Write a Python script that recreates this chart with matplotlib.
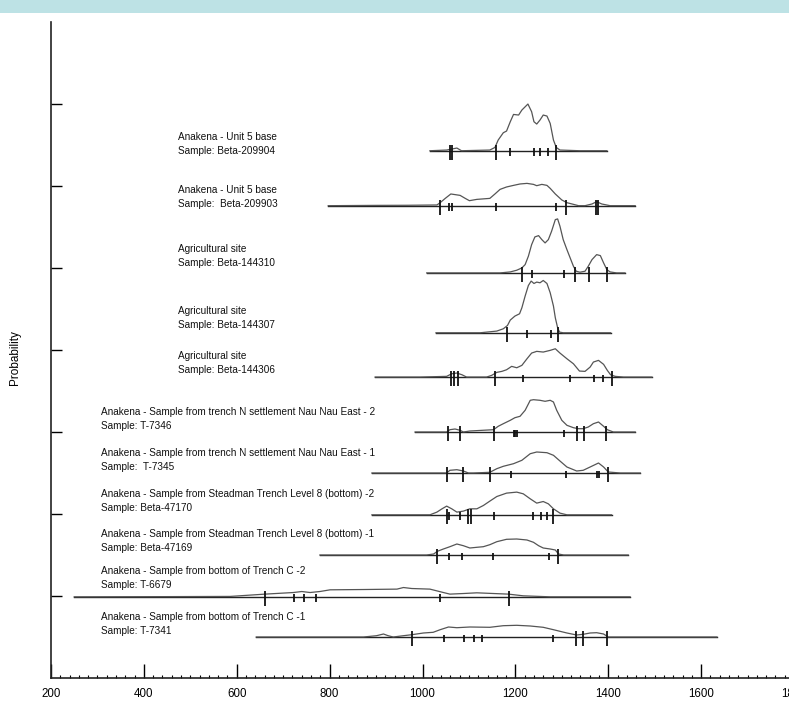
import numpy as np
import matplotlib.pyplot as plt
from matplotlib.patches import Rectangle

plt.rcParams['font.family'] = ['Liberation Sans', 'DejaVu Sans']

# calibrated date distributions, one per sample (years AD, relative probability)
yr_209904 = [1016, 1052, 1074, 1084, 1145, 1156, 1163, 1174, 1181, 1189, 1196, 1207, 1214,
             1227, 1235, 1240, 1246, 1253, 1260, 1268, 1275, 1282, 1288, 1296, 1339, 1397]
p_209904 = [0, 0.7, 2.7, 0, 0.7, 3.3, 10.7, 18, 19.7, 29, 36.3, 35.7, 40.7,
            46.7, 39, 29, 26.7, 30.7, 35.7, 34.7, 27.3, 10.7, 3.3, 0.7, 0, 0]

yr_209903 = [797, 900, 966, 1031, 1038, 1049, 1061, 1081, 1092, 1101, 1117, 1145, 1156, 1167,
             1181, 1196, 1210, 1225, 1239, 1246, 1257, 1268, 1275, 1286, 1300, 1311, 1322,
             1336, 1350, 1365, 1375, 1386, 1404, 1458]
p_209903 = [0, 0.3, 0.4, 0.7, 3, 7.3, 11.7, 10.3, 7.3, 5, 6.3, 7.3, 11.7, 16.3,
            18.7, 20.3, 21.7, 22.3, 21.3, 20, 21.3, 20.3, 17.3, 11.7, 5.7, 3, 1.7,
            0, 0, 1.7, 4, 1.7, 0, 0]

yr_144310 = [1009, 1167, 1189, 1203, 1214, 1221, 1228, 1235, 1242, 1250, 1257, 1264, 1271,
             1278, 1286, 1291, 1296, 1303, 1311, 1318, 1325, 1331, 1339, 1350, 1357, 1365,
             1375, 1383, 1390, 1397, 1404, 1418, 1436]
p_144310 = [0, 0, 1, 2.7, 5, 8.3, 16.7, 28.3, 36, 37.3, 33.3, 30, 33.3,
            41.7, 53.3, 54, 46.7, 33.3, 23.3, 15, 6.7, 1.7, 0.7, 1.7, 6.7, 13.3,
            18.3, 17.3, 10, 3.3, 1, 0, 0]

yr_144307 = [1029, 1124, 1160, 1174, 1183, 1189, 1199, 1209, 1214, 1221, 1228, 1234, 1240,
             1246, 1253, 1260, 1268, 1275, 1282, 1286, 1291, 1295, 1303, 1405]
p_144307 = [0, 0, 1.7, 4, 7.3, 12.7, 16.7, 19, 25, 36.7, 47.3, 51.7, 49.3,
            50.7, 50, 52.3, 49.3, 40, 26.7, 15, 5, 0.7, 0, 0]

yr_144306 = [898, 995, 1052, 1063, 1074, 1085, 1095, 1138, 1149, 1160, 1171, 1181, 1192,
             1203, 1214, 1225, 1235, 1246, 1260, 1275, 1286, 1296, 1311, 1325, 1338, 1350,
             1361, 1368, 1379, 1390, 1398, 1405, 1415, 1433, 1494]
p_144306 = [0, 0, 0.7, 3.3, 4, 2.3, 0, 0, 1.7, 4.7, 5.7, 7.3, 10.7,
            9.3, 11.7, 18.3, 24, 25.7, 25, 26.7, 28.3, 24, 18.3, 13.3, 6, 5.7,
            10, 15, 16.7, 12.7, 6.7, 2.3, 0.7, 0, 0]

yr_t7346 = [984, 1052, 1059, 1070, 1081, 1088, 1102, 1153, 1163, 1174, 1189, 1199, 1210,
            1221, 1232, 1239, 1253, 1264, 1275, 1282, 1289, 1300, 1311, 1325, 1336, 1346,
            1357, 1368, 1379, 1390, 1398, 1411, 1458]
p_t7346 = [0, 0, 2.3, 3, 1.7, 0, 1, 2.3, 5.7, 8.3, 11.7, 14.3, 15.7,
           21.7, 31.7, 32.3, 31.7, 30.7, 31.7, 30, 21.7, 11.7, 6.7, 4.3, 3.3, 3.3,
           5, 8.3, 10, 5.7, 2.3, 0, 0]

yr_t7345 = [891, 1052, 1059, 1074, 1088, 1099, 1110, 1145, 1160, 1174, 1196, 1214, 1232,
            1246, 1268, 1282, 1296, 1311, 1332, 1346, 1361, 1379, 1390, 1400, 1426, 1469]
p_t7345 = [0, 0, 2.7, 3.3, 2, 0, 0, 0.7, 4.3, 6.7, 9.3, 12.7, 19.3,
           21, 20.3, 17.7, 12, 6, 2, 2.7, 6, 10, 6, 1, 0, 0]

yr_47170 = [891, 1016, 1031, 1042, 1052, 1063, 1074, 1088, 1102, 1117, 1131, 1145, 1160,
            1181, 1203, 1217, 1232, 1246, 1260, 1271, 1282, 1296, 1311, 1407]
p_47170 = [0, 0, 2.7, 6, 8.7, 6, 2.7, 3.7, 6, 6, 9.3, 13.7, 18.3,
           21.7, 22.7, 21, 16, 11.7, 13.3, 11, 6, 1.7, 0, 0]

yr_47169 = [779, 1009, 1024, 1032, 1045, 1059, 1074, 1088, 1102, 1117, 1131, 1145, 1160,
            1181, 1203, 1225, 1239, 1250, 1260, 1275, 1286, 1293, 1304, 1443]
p_47169 = [0, 0, 1, 3.7, 6, 8.3, 11, 9.3, 7, 7.7, 8.3, 10.3, 13.3,
           15.7, 16, 15, 12.7, 9.3, 7, 6, 5, 1, 0, 0]

yr_t6679 = [250, 450, 586, 661, 722, 740, 758, 779, 801, 873, 945, 959, 977, 1016,
            1045, 1059, 1088, 1117, 1153, 1185, 1217, 1275, 1447]
p_t6679 = [0, 0.2, 0.4, 2.7, 4.3, 5.3, 4.3, 5.3, 7, 7.3, 7.7, 9.3, 8.3, 7.7,
           4.3, 2.7, 3.3, 4, 3.3, 2.7, 1, 0, 0]

yr_t7341 = [642, 873, 901, 916, 926, 937, 959, 977, 1002, 1023, 1038, 1056, 1074, 1102,
            1145, 1174, 1203, 1232, 1260, 1282, 1296, 1311, 1332, 1346, 1361, 1375, 1390,
            1400, 1426, 1634]
p_t7341 = [0, 0, 1.3, 3, 1.3, 0, 1.3, 2.3, 4, 4.7, 7.3, 10, 9.3, 10,
           9.7, 11.3, 11.7, 11, 9.7, 7.3, 5.7, 4, 2, 2.7, 4, 4.3, 3,
           0, 0, 0]

# range boundaries (long = 95%, short = 68%)
long_ticks = [[1059, 1063, 1158, 1288], [1037, 1309, 1374, 1378], [1214, 1329, 1359, 1398],
              [1183, 1291], [1061, 1068, 1076, 1156, 1407], [1055, 1081, 1154, 1333, 1347, 1396],
              [1052, 1088, 1146, 1400], [1052, 1097, 1104, 1280], [1031, 1291],
              [661, 1186], [977, 1330, 1346, 1397]]
short_ticks = [[1189, 1240, 1253, 1270], [1058, 1064, 1158, 1287], [1235, 1304],
               [1226, 1276], [1217, 1318, 1369, 1388], [1197, 1200, 1204, 1304],
               [1190, 1310, 1375, 1380], [1058, 1081, 1154, 1239, 1255, 1268],
               [1056, 1085, 1151, 1273], [724, 744, 770, 1037], [1046, 1090, 1110, 1129, 1280]]

sites = ['Anakena - Unit 5 base', 'Anakena - Unit 5 base', 'Agricultural site',
         'Agricultural site', 'Agricultural site',
         'Anakena - Sample from trench N settlement Nau Nau East - 2',
         'Anakena - Sample from trench N settlement Nau Nau East - 1',
         'Anakena - Sample from Steadman Trench Level 8 (bottom) -2',
         'Anakena - Sample from Steadman Trench Level 8 (bottom) -1',
         'Anakena - Sample from bottom of Trench C -2',
         'Anakena - Sample from bottom of Trench C -1']
samples = ['Sample: Beta-209904', 'Sample:  Beta-209903', 'Sample: Beta-144310',
           'Sample: Beta-144307', 'Sample: Beta-144306', 'Sample: T-7346',
           'Sample:  T-7345', 'Sample: Beta-47170', 'Sample: Beta-47169',
           'Sample: T-6679', 'Sample: T-7341']

years = [yr_209904, yr_209903, yr_144310, yr_144307, yr_144306, yr_t7346,
         yr_t7345, yr_47170, yr_47169, yr_t6679, yr_t7341]
probs = [p_209904, p_209903, p_144310, p_144307, p_144306, p_t7346,
         p_t7345, p_47170, p_47169, p_t6679, p_t7341]

# layout
offsets = [6.43, 5.76, 4.94, 4.21, 3.67, 3.0, 2.5, 1.99, 1.5, 0.99, 0.5]
label_x = [474] * 5 + [308] * 6
label_dy = [0, 2, 10, 8, 7, 6, 6, 7, 7, 12, 6]   # in 1/82 axis units
scale = 1 / 82.0

fig = plt.figure(figsize=(7.89, 7.12), dpi=100)
fig.patches.append(Rectangle((0, 1 - 13 / 712), 1, 13 / 712, transform=fig.transFigure,
                             facecolor='#bde2e5', edgecolor='none'))
ax = fig.add_axes([51 / 789, 34 / 712, 743 / 789, 656 / 712])

for i in range(len(years)):
    base = offsets[i]
    yr = np.array(years[i])
    p = np.array(probs[i]) * scale
    ax.plot([yr[0], yr[-1]], [base, base], color='#222222', lw=1.0)
    ax.plot(yr, base + p, color='#555555', lw=0.9)
    ax.vlines(long_ticks[i], base - 9 * scale, base + 6 * scale, color='#111111', lw=1.3)
    ax.vlines(short_ticks[i], base - 5 * scale, base + 2.5 * scale, color='#111111', lw=1.3)
    y2 = base + label_dy[i] * scale
    ax.text(label_x[i], y2 + 14 * scale, sites[i], fontsize=7.2, va='center', ha='left', color='#111111')
    ax.text(label_x[i], y2, samples[i], fontsize=7.2, va='center', ha='left', color='#111111')

ax.set_xlim(200, 1800)
ax.set_ylim(0, 8)
ax.set_xticks(np.arange(200, 1801, 200))
ax.set_xticks(np.arange(200, 1801, 20), minor=True)
ax.set_yticks(np.arange(1, 8))
ax.set_yticklabels([])
ax.tick_params(axis='x', which='major', direction='in', length=10, width=1.0, pad=7.5, labelsize=8.3)
ax.tick_params(axis='x', which='minor', direction='in', length=2.5, width=0.8)
ax.tick_params(axis='y', direction='in', length=8, width=1.0)
for s in ['top', 'right']:
    ax.spines[s].set_visible(False)
for s in ['left', 'bottom']:
    ax.spines[s].set_linewidth(1.2)
    ax.spines[s].set_color('#222222')

fig.text(15 / 789, 1 - 358 / 712, 'Probability', rotation=90, va='center', ha='center', fontsize=8.5)

fig.savefig('out.png', dpi=100)
